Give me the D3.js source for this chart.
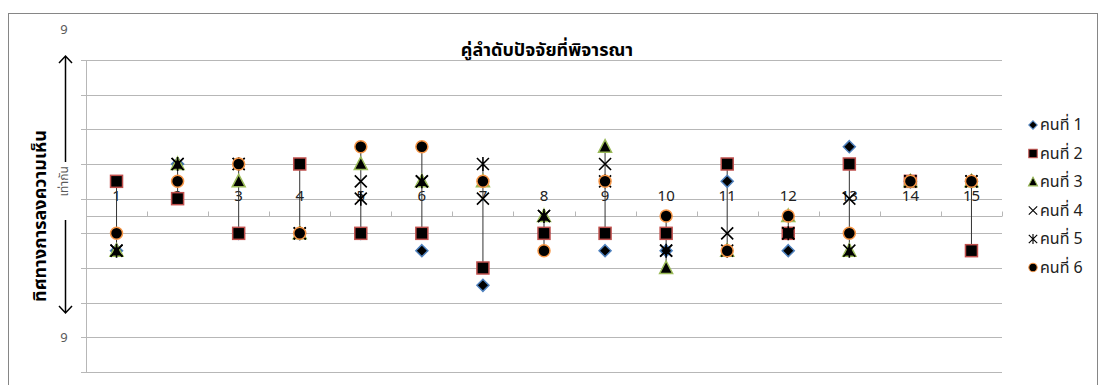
<!DOCTYPE html>
<html>
<head>
<meta charset="utf-8">
<script src="https://cdn.jsdelivr.net/npm/d3@7"></script>
<style>
  body { margin: 0; background: #fff; }
  svg text { font-family: "Noto Sans Thai", Tahoma, "Noto Sans", "DejaVu Sans", sans-serif; }
</style>
</head>
<body>
<div id="chart"></div>
<script>
const categories = d3.range(1, 16).map(String);
const seriesNames = ["คนที่ 1", "คนที่ 2", "คนที่ 3", "คนที่ 4", "คนที่ 5", "คนที่ 6"];
const person1 = [-2, 3, -1, -1, -1, -2, -4, -1, -2, -2, 2, -2, 4, 2, 2];
const person2 = [2, 1, -1, 3, -1, -1, -3, -1, -1, -1, 3, -1, 3, 2, -2];
const person3 = [-2, 3, 2, -1, 3, 2, 2, 0, 4, -3, -2, 0, -2, 2, 2];
const person4 = [-2, 3, 3, -1, 2, 2, 1, 0, 3, -2, -1, -1, 1, 2, 2];
const person5 = [-2, 3, 3, -1, 1, 2, 3, 0, 2, -2, -2, -1, -2, 2, 2];
const person6 = [-1, 2, 3, -1, 4, 4, 2, -2, 2, 0, -2, 0, -1, 2, 2];
const gridValues = [-9, -7, -5, -3, -1, 1, 3, 5, 7, 9];
const sideLabels = [{v: 10.8, t: "9"}, {v: -7, t: "9"}];
const title = "คู่ลำดับปัจจัยที่พิจารณา";
const yTitle = "ทิศทางการลงความเห็น";
const midLabel = "เท่ากัน";

const w = 1099, h = 385;
const plotLeft = 86, plotRight = 1002, plotTop = 60, plotBottom = 372;

const series = [person1, person2, person3, person4, person5, person6];
const markers = ["diamond", "square", "triangle", "x", "star", "circle"];
const strokes = ["#4f81bd", "#c0504d", "#9bbb59", "#000", "#000", "#f79646"];

const svg = d3.select("#chart").append("svg")
    .attr("width", w)
    .attr("height", h);

svg.append("rect")
    .attr("x", 8.5).attr("y", 13.5)
    .attr("width", 1089).attr("height", 380)
    .attr("fill", "#fff")
    .attr("stroke", "#868686");

const x = d3.scaleBand().domain(categories).range([plotLeft, plotRight]);
const y = d3.scaleLinear().domain([-9, 9]).range([plotBottom, plotTop]);

// gridlines
svg.append("g").selectAll("line")
    .data(gridValues)
    .enter().append("line")
    .attr("x1", plotLeft - 5).attr("x2", plotRight)
    .attr("y1", d => Math.round(y(d)) + 0.5)
    .attr("y2", d => Math.round(y(d)) + 0.5)
    .attr("stroke", "#b7b7b7");

// value axis line
svg.append("line")
    .attr("x1", plotLeft + 0.5).attr("x2", plotLeft + 0.5)
    .attr("y1", plotTop).attr("y2", plotBottom + 1)
    .attr("stroke", "#b7b7b7");

// category axis at zero, ticks point up
const axisY = Math.round(y(0)) + 0.5;
svg.append("line")
    .attr("x1", plotLeft).attr("x2", plotRight)
    .attr("y1", axisY).attr("y2", axisY)
    .attr("stroke", "#b7b7b7");
svg.append("g").selectAll("line")
    .data(d3.range(categories.length + 1))
    .enter().append("line")
    .attr("x1", i => Math.round(plotLeft + i * x.step()) + 0.5)
    .attr("x2", i => Math.round(plotLeft + i * x.step()) + 0.5)
    .attr("y1", axisY - 5).attr("y2", axisY)
    .attr("stroke", "#b7b7b7");

svg.append("g").selectAll("text")
    .data(categories)
    .enter().append("text")
    .attr("x", d => x(d) + x.bandwidth() / 2)
    .attr("y", axisY - 16)
    .attr("text-anchor", "middle")
    .attr("font-size", 15)
    .attr("fill", "#222")
    .text(d => d);

// high-low lines (persons 2-6)
svg.append("g").selectAll("line")
    .data(categories)
    .enter().append("line")
    .attr("x1", d => x(d) + x.bandwidth() / 2)
    .attr("x2", d => x(d) + x.bandwidth() / 2)
    .attr("y1", (d, i) => y(d3.max(series.slice(1), s => s[i])))
    .attr("y2", (d, i) => y(d3.min(series.slice(1), s => s[i])))
    .attr("stroke", "#333")
    .attr("stroke-width", 1);

// marker shapes
const drawMarker = (g, type, stroke) => {
    if (type === "diamond") {
        g.append("path").attr("d", "M0,-6L6,0L0,6L-6,0Z")
            .attr("fill", "#000").attr("stroke", stroke).attr("stroke-width", 1.5);
    } else if (type === "square") {
        g.append("rect").attr("x", -6).attr("y", -6).attr("width", 12).attr("height", 12)
            .attr("fill", "#000").attr("stroke", stroke).attr("stroke-width", 1.5);
    } else if (type === "triangle") {
        g.append("path").attr("d", "M0,-7L6.5,5.5L-6.5,5.5Z")
            .attr("fill", "#000").attr("stroke", stroke).attr("stroke-width", 1.5);
    } else if (type === "x") {
        g.append("path").attr("d", "M-6,-6L6,6M6,-6L-6,6")
            .attr("stroke", "#000").attr("stroke-width", 1.6);
    } else if (type === "star") {
        g.append("path").attr("d", "M-6,-6L6,6M6,-6L-6,6M0,-7L0,7")
            .attr("stroke", "#000").attr("stroke-width", 1.6);
    } else {
        g.append("circle").attr("r", 6)
            .attr("fill", "#000").attr("stroke", stroke).attr("stroke-width", 1.5);
    }
};

series.forEach((s, si) => {
    const g = svg.append("g");
    s.forEach((v, i) => {
        const m = g.append("g")
            .attr("transform", `translate(${x(categories[i]) + x.bandwidth() / 2},${y(v)})`);
        drawMarker(m, markers[si], strokes[si]);
    });
});

// title
svg.append("text")
    .attr("x", 547).attr("y", 56)
    .attr("text-anchor", "middle")
    .attr("font-size", 18)
    .attr("font-weight", "bold")
    .text(title);

// side labels "9"
svg.append("g").selectAll("text")
    .data(sideLabels)
    .enter().append("text")
    .attr("x", 64)
    .attr("y", d => y(d.v) + 5)
    .attr("text-anchor", "middle")
    .attr("font-size", 13)
    .attr("fill", "#595959")
    .text(d => d.t);

// y title
svg.append("text")
    .attr("transform", `translate(46,${y(0)}) rotate(-90)`)
    .attr("text-anchor", "middle")
    .attr("font-size", 18)
    .attr("font-weight", "bold")
    .text(yTitle);

svg.append("text")
    .attr("transform", `translate(68,${y(2)}) rotate(-90)`)
    .attr("text-anchor", "middle")
    .attr("font-size", 12)
    .attr("fill", "#595959")
    .text(midLabel);

// arrows
svg.append("path")
    .attr("d", "M65.5,56V162M59,63L65.5,56L72,63")
    .attr("fill", "none").attr("stroke", "#000").attr("stroke-width", 1.5);
svg.append("path")
    .attr("d", "M65.5,220V313M59,306L65.5,313L72,306")
    .attr("fill", "none").attr("stroke", "#000").attr("stroke-width", 1.5);

// legend
const legend = svg.append("g");
seriesNames.forEach((name, i) => {
    const ly = 125 + i * 28.5;
    const m = legend.append("g").attr("transform", `translate(1033,${ly}) scale(0.7)`);
    drawMarker(m, markers[i], strokes[i]);
    legend.append("text")
        .attr("x", 1040).attr("y", ly + 5)
        .attr("font-size", 16)
        .attr("fill", "#222")
        .text(name);
});
</script>
</body>
</html>
